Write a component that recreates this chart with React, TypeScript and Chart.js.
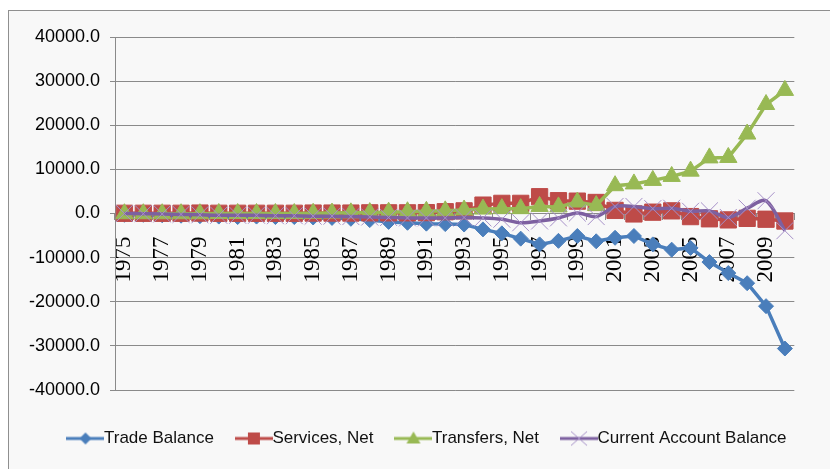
import React, { useEffect, useRef } from 'react';
import { Chart, registerables } from 'chart.js';

Chart.register(...registerables);

const years = [
  '1975', '1976', '1977', '1978', '1979', '1980', '1981', '1982', '1983', '1984',
  '1985', '1986', '1987', '1988', '1989', '1990', '1991', '1992', '1993', '1994',
  '1995', '1996', '1997', '1998', '1999', '2000', '2001', '2002', '2003', '2004',
  '2005', '2006', '2007', '2008', '2009', '2010',
];

const tradeBalance = [
  -300, -300, -400, -500, -600, -700, -800, -700, -800, -800,
  -900, -1000, -1200, -1500, -1900, -2100, -2300, -2400, -2500, -3600,
  -4500, -5700, -7000, -6200, -5100, -6300, -5500, -5100, -7000, -8200,
  -7800, -11000, -13500, -15800, -21000, -30600,
];

const servicesNet = [
  50, 50, 50, 50, 100, 50, 50, 50, 50, 50,
  100, 100, 100, 150, 150, 150, 200, 400, 600, 1900,
  2300, 2300, 3800, 2900, 2800, 2500, 700, -100, 300, 600,
  -700, -1200, -1450, -1100, -1300, -1700,
];

const transfersNet = [
  -50, -50, -50, -50, -50, 0, 0, 0, 0, 0,
  50, 100, 150, 200, 300, 400, 500, 600, 800, 1000,
  1100, 1100, 1600, 1500, 2600, 1800, 6300, 6700, 7500, 8400,
  9600, 12600, 12700, 18000, 24700, 27900,
];

const currentAccount = [
  0, -50, -100, -200, -300, -400, -400, -400, -500, -500,
  -600, -600, -700, -800, -900, -1000, -1000, -1000, -900, -1000,
  -1300, -2100, -1700, -1000, 100, -700, 1600, 1600, 1100, 1200,
  500, 600, -900, 1200, 2900, -3900,
];

const yTicks = [-40000, -30000, -20000, -10000, 0, 10000, 20000, 30000, 40000];

const BLUE = '#4a7ebb';
const RED = '#be4b48';
const GREEN = '#98b954';
const PURPLE = '#7d60a0';
const PURPLE_LIGHT = '#a690c8';
const GRID = '#8a8a8a';

const sans = "'Liberation Sans', Arial, sans-serif";

function makeIcon(color: string, kind: string): HTMLCanvasElement {
  const c = document.createElement('canvas');
  c.width = 38;
  c.height = 20;
  const ctx = c.getContext('2d') as CanvasRenderingContext2D;
  const cy = 10;
  ctx.strokeStyle = color;
  ctx.lineWidth = 3;
  ctx.beginPath();
  ctx.moveTo(0, cy);
  ctx.lineTo(38, cy);
  ctx.stroke();
  ctx.fillStyle = color;
  const cx = 19;
  if (kind === 'diamond') {
    ctx.beginPath();
    ctx.moveTo(cx, cy - 6);
    ctx.lineTo(cx + 6, cy);
    ctx.lineTo(cx, cy + 6);
    ctx.lineTo(cx - 6, cy);
    ctx.closePath();
    ctx.fill();
  } else if (kind === 'square') {
    ctx.fillRect(cx - 6, cy - 6, 12, 12);
  } else if (kind === 'triangle') {
    ctx.beginPath();
    ctx.moveTo(cx, cy - 7);
    ctx.lineTo(cx + 7, cy + 5);
    ctx.lineTo(cx - 7, cy + 5);
    ctx.closePath();
    ctx.fill();
  } else {
    ctx.strokeStyle = PURPLE_LIGHT;
    ctx.lineWidth = 1;
    ctx.beginPath();
    ctx.moveTo(cx - 8, cy - 7);
    ctx.lineTo(cx + 8, cy + 7);
    ctx.moveTo(cx + 8, cy - 7);
    ctx.lineTo(cx - 8, cy + 7);
    ctx.stroke();
  }
  return c;
}

const widenYLabelArea = {
  id: 'widenYLabelArea',
  afterLayout(chart: any) {
    if (chart.scales.y) chart.scales.y.left = 0;
  },
};

export default function App() {
  const ref = useRef<HTMLCanvasElement | null>(null);

  useEffect(() => {
    if (!ref.current) return;
    const icons = [
      makeIcon(BLUE, 'diamond'),
      makeIcon(RED, 'square'),
      makeIcon(GREEN, 'triangle'),
      makeIcon(PURPLE, 'cross'),
    ];
    const chart = new Chart(ref.current, {
      type: 'line',
      data: {
        labels: years,
        datasets: [
          {
            label: 'Trade Balance',
            data: tradeBalance,
            order: 4,
            xAxisID: 'x',
            yAxisID: 'y',
            borderColor: BLUE,
            backgroundColor: BLUE,
            borderWidth: 3.5,
            pointStyle: 'rectRot',
            pointRadius: 7.5,
            pointBackgroundColor: BLUE,
            pointBorderColor: BLUE,
            pointBorderWidth: 1,
            tension: 0,
          },
          {
            label: 'Services, Net',
            data: servicesNet,
            order: 3,
            xAxisID: 'x',
            yAxisID: 'y',
            borderColor: RED,
            backgroundColor: RED,
            borderWidth: 3.5,
            pointStyle: 'rect',
            pointRadius: 11.5,
            pointBackgroundColor: RED,
            pointBorderColor: RED,
            pointBorderWidth: 1,
            tension: 0,
          },
          {
            label: 'Transfers, Net',
            data: transfersNet,
            order: 2,
            xAxisID: 'x',
            yAxisID: 'y',
            borderColor: GREEN,
            backgroundColor: GREEN,
            borderWidth: 3.5,
            pointStyle: 'triangle',
            pointRadius: 10,
            pointBackgroundColor: GREEN,
            pointBorderColor: GREEN,
            pointBorderWidth: 1,
            tension: 0,
          },
          {
            label: 'Current Account Balance',
            data: currentAccount,
            order: 1,
            xAxisID: 'x',
            yAxisID: 'y',
            borderColor: PURPLE,
            backgroundColor: PURPLE,
            borderWidth: 3.5,
            pointStyle: 'crossRot',
            pointRadius: 12,
            pointBackgroundColor: PURPLE_LIGHT,
            pointBorderColor: PURPLE_LIGHT,
            pointBorderWidth: 1,
            tension: 0.3,
          },
        ],
      },
      plugins: [widenYLabelArea],
      options: {
        animation: false,
        responsive: true,
        maintainAspectRatio: false,
        layout: { padding: { top: 26, right: 13, left: 36, bottom: 0 } },
        plugins: {
          tooltip: { enabled: false },
          legend: {
            position: 'bottom',
            labels: {
              usePointStyle: true,
              pointStyleWidth: 20,
              padding: 30,
              color: '#111',
              font: { family: sans, size: 17 },
              generateLabels: (c: any) =>
                c.data.datasets.map((ds: any, i: number) => ({
                  text: ds.label,
                  pointStyle: icons[i],
                  fillStyle: 'rgba(0,0,0,0)',
                  strokeStyle: 'rgba(0,0,0,0)',
                  lineWidth: 0,
                  hidden: false,
                  datasetIndex: i,
                  fontColor: '#111',
                })),
            },
          },
        },
        scales: {
          x: {
            type: 'category',
            position: { y: 0 } as any,
            offset: true,
            grid: {
              offset: true,
              drawOnChartArea: false,
              drawTicks: true,
              tickLength: 6,
              color: GRID,
            },
            border: { display: true, color: GRID },
            ticks: {
              autoSkip: false,
              minRotation: 90,
              maxRotation: 90,
              padding: 17,
              color: '#000',
              font: { family: "'Liberation Serif', serif", size: 23 },
              callback: (_v: any, i: number) => (i % 2 === 0 ? years[i] : ''),
            },
          },
          y: {
            min: yTicks[0],
            max: yTicks[yTicks.length - 1],
            afterBuildTicks: (s: any) => {
              s.ticks = yTicks.map((v) => ({ value: v }));
            },
            afterFit: (s: any) => {
              s.width = 70;
            },
            grid: { color: GRID, tickLength: 5 },
            border: { color: GRID },
            ticks: {
              padding: 10,
              color: '#000',
              font: { family: sans, size: 18 },
              callback: (v: any) => Number(v).toFixed(1),
            },
          },
          gap: {
            type: 'category',
            position: 'bottom',
            display: true,
            grid: { display: false },
            border: { display: false },
            ticks: { display: false },
            afterFit: (s: any) => {
              s.height = 10;
            },
          },
        },
      } as any,
    });
    return () => chart.destroy();
  }, []);

  return (
    <div
      style={{
        position: 'fixed',
        left: 8,
        top: 10,
        width: 830,
        height: 470,
        borderLeft: '1px solid #8f8f8f',
        borderTop: '1px solid #8f8f8f',
        background: '#f8f8f8',
        overflow: 'hidden',
      }}
    >
      <div style={{ position: 'relative', width: 821, height: 446 }}>
        <canvas ref={ref} />
      </div>
    </div>
  );
}
